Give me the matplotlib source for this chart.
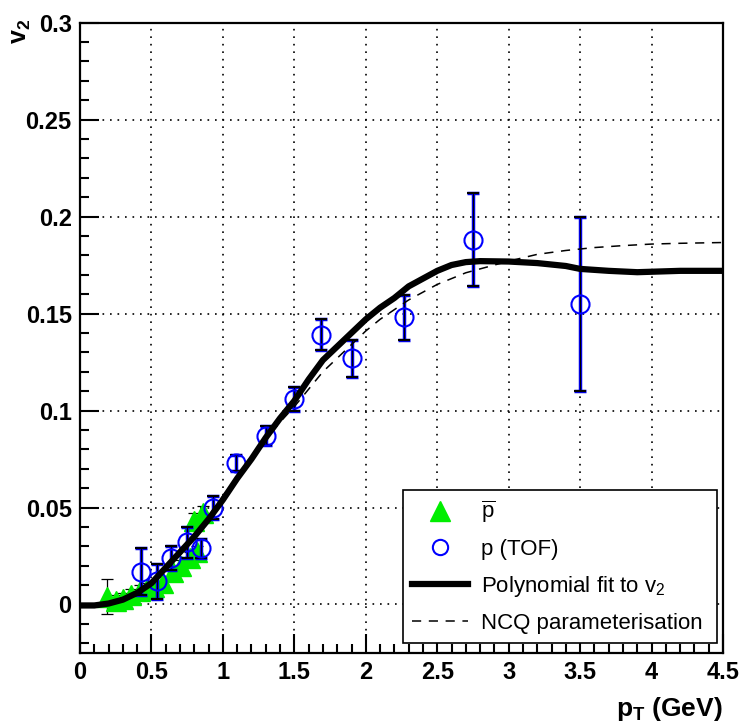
import matplotlib
matplotlib.use("Agg")
import matplotlib.pyplot as plt
from matplotlib.lines import Line2D
from matplotlib.ticker import MultipleLocator, FuncFormatter

plt.rcParams["font.family"] = ["Liberation Sans", "DejaVu Sans"]
plt.rcParams["mathtext.fontset"] = "custom"
plt.rcParams["mathtext.rm"] = "Liberation Sans"
plt.rcParams["mathtext.it"] = "Liberation Sans"
plt.rcParams["mathtext.bf"] = "Liberation Sans:bold"

# anti-proton points (green triangles)
pbar_pt = [0.19, 0.25, 0.30, 0.36, 0.42, 0.47, 0.52, 0.58, 0.65, 0.71, 0.77, 0.82, 0.80, 0.86]
pbar_v2 = [0.004, 0.002, 0.003, 0.005, 0.007, 0.008, 0.009, 0.011, 0.017, 0.020, 0.024, 0.027, 0.043, 0.047]
pbar_err = [0.009, 0.003, 0.003, 0.003, 0.003, 0.003, 0.003, 0.003, 0.003, 0.003, 0.003, 0.003, 0.004, 0.004]

# proton (TOF) points (blue open circles)
p_pt = [0.43, 0.54, 0.64, 0.75, 0.85, 0.93, 1.09, 1.30, 1.50, 1.69, 1.90, 2.27, 2.75, 3.50]
p_v2 = [0.017, 0.012, 0.024, 0.032, 0.029, 0.050, 0.073, 0.087, 0.106, 0.139, 0.127, 0.148, 0.188, 0.155]
p_err = [0.012, 0.009, 0.006, 0.008, 0.005, 0.006, 0.004, 0.005, 0.006, 0.008, 0.0095, 0.0115, 0.024, 0.045]

# polynomial fit to v2
fit_pt = [0.0, 0.1, 0.2, 0.3, 0.4, 0.5, 0.6, 0.7, 0.8, 0.9, 1.0, 1.1, 1.2, 1.3, 1.4, 1.5,
          1.6, 1.7, 1.8, 1.9, 2.0, 2.1, 2.2, 2.3, 2.4, 2.5, 2.6, 2.7, 2.8, 3.0, 3.2, 3.4,
          3.5, 3.7, 3.9, 4.2, 4.5]
fit_v2 = [-0.0005, -0.0005, 0.0005, 0.0025, 0.006, 0.011, 0.019, 0.027, 0.035, 0.044, 0.054, 0.065,
          0.075, 0.086, 0.096, 0.105, 0.116, 0.126, 0.133, 0.140, 0.147, 0.153, 0.158, 0.164,
          0.168, 0.172, 0.175, 0.1765, 0.177, 0.1768, 0.176, 0.1745, 0.173, 0.172, 0.1713,
          0.172, 0.172]

# NCQ parameterisation
ncq_pt = [0.0, 0.2, 0.4, 0.6, 0.8, 1.0, 1.2, 1.4, 1.5, 1.6, 1.7, 1.8, 1.9, 2.0, 2.1, 2.2,
          2.3, 2.4, 2.5, 2.6, 2.7, 2.8, 2.9, 3.0, 3.2, 3.4, 3.6, 3.8, 4.0, 4.2, 4.5]
ncq_v2 = [0.0, 0.001, 0.006, 0.018, 0.035, 0.056, 0.076, 0.094, 0.102, 0.111, 0.120, 0.127,
          0.134, 0.141, 0.147, 0.152, 0.157, 0.161, 0.165, 0.168, 0.171, 0.173, 0.175, 0.177,
          0.1805, 0.1825, 0.184, 0.185, 0.1858, 0.1862, 0.1866]

legend_labels = [r"$\overline{\mathrm{p}}$", "p (TOF)", r"Polynomial fit to v$_2$", "NCQ parameterisation"]

green = "#00ee00"
blue = "#0000ff"

fig = plt.figure(figsize=(7.41, 7.27), dpi=100)
ax = fig.add_axes([0.108, 0.1018, 0.8677, 0.8672])

ax.errorbar(pbar_pt, pbar_v2, yerr=pbar_err, fmt="^", color=green, ms=14, mec=green,
            ecolor="black", elinewidth=0.9, capsize=4, capthick=0.9, zorder=3)
ax.errorbar(p_pt, p_v2, yerr=p_err, fmt="none", ecolor="#0000ee", elinewidth=2.5,
            capsize=4, capthick=2.5, zorder=4)
ax.errorbar(p_pt, p_v2, yerr=p_err, fmt="o", mfc="none", mec=blue, mew=1.5, ms=13,
            ecolor="black", elinewidth=0.8, capsize=4, capthick=0.8, zorder=5)
ax.plot(fit_pt, fit_v2, color="black", lw=4.5, solid_capstyle="butt", zorder=7)
ax.plot(ncq_pt, ncq_v2, color="black", lw=1.1, ls=(0, (6, 5)), zorder=6)

ax.set_xlim(0, 4.5)
ax.set_ylim(-0.025, 0.3)
ax.xaxis.set_major_locator(MultipleLocator(0.5))
ax.xaxis.set_minor_locator(MultipleLocator(0.1))
ax.yaxis.set_major_locator(MultipleLocator(0.05))
ax.yaxis.set_minor_locator(MultipleLocator(0.01))
fmt = FuncFormatter(lambda v, pos: "%g" % round(v, 3))
ax.xaxis.set_major_formatter(fmt)
ax.yaxis.set_major_formatter(fmt)
ax.tick_params(which="both", direction="in", top=False, right=False, width=1.5)
ax.tick_params(which="major", length=14, labelsize=17, pad=6)
ax.tick_params(which="minor", length=6.5)
for lab in ax.get_xticklabels() + ax.get_yticklabels():
    lab.set_fontweight("bold")
for s in ax.spines.values():
    s.set_linewidth(1.6)
ax.grid(True, which="major", color="black", ls=(0, (1, 3.5)), lw=1.2)

handles = [
    Line2D([], [], ls="none", marker="^", ms=15, color=green),
    Line2D([], [], ls="none", marker="o", ms=11, mfc="none", mec=blue, mew=1.5),
    Line2D([], [], color="black", lw=4.5),
    Line2D([], [], color="black", lw=1.1, ls=(0, (6, 5))),
]
leg = ax.legend(handles, legend_labels, loc="lower left",
                bbox_to_anchor=(0.502, 0.0159, 0.4887, 0.236), mode="expand",
                borderaxespad=0, fontsize=16, frameon=True, fancybox=False, edgecolor="black",
                framealpha=1, handlelength=2.5, handletextpad=0.6, labelspacing=0.62,
                borderpad=0.42)
leg.get_frame().set_linewidth(1.2)
leg.set_zorder(10)

fig.text(0.975, 0.025, r"$\mathbf{p_T}$ (GeV)", ha="right", va="center", fontsize=19,
         fontweight="bold")
fig.text(0.029, 0.974, r"$\mathbf{v_2}$", ha="center", va="top", rotation=90, fontsize=18)

fig.savefig("out.png", dpi=100)
